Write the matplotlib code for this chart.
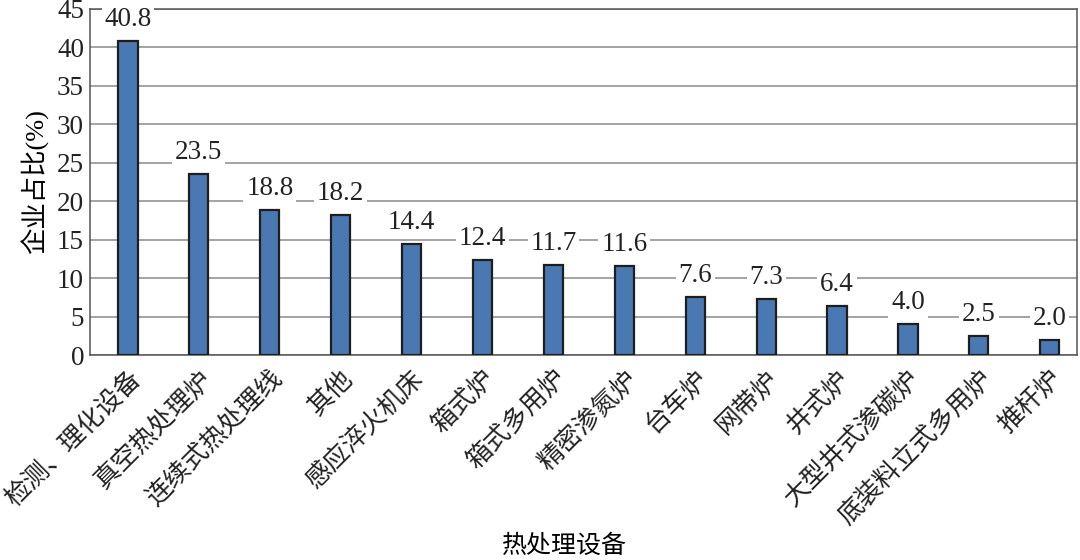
import matplotlib
matplotlib.use("Agg")
import matplotlib.pyplot as plt
import numpy as np

# data
categories = ["检测、理化设备", "真空热处理炉", "连续式热处理线", "其他", "感应淬火机床",
              "箱式炉", "箱式多用炉", "精密渗氮炉", "台车炉", "网带炉", "井式炉",
              "大型井式渗碳炉", "底装料立式多用炉", "推杆炉"]
shares = [40.8, 23.5, 18.8, 18.2, 14.4, 12.4, 11.7, 11.6, 7.6, 7.3, 6.4, 4.0, 2.5, 2.0]
y_ticks = [0, 5, 10, 15, 20, 25, 30, 35, 40, 45]

FONTS = ["Liberation Serif", "Noto Sans CJK SC", "DejaVu Sans"]
plt.rcParams["font.family"] = FONTS

BAR_COLOR = "#4a78b2"
EDGE_COLOR = "#1e1e1e"
GRID_COLOR = "#8a8a8a"

fig = plt.figure(figsize=(10.8, 5.6), dpi=100)
ax = fig.add_axes([0.083, 0.366, 0.914, 0.618])

x = np.arange(len(categories))
ax.bar(x, shares, width=0.27, color=BAR_COLOR, edgecolor=EDGE_COLOR,
       linewidth=1.6, zorder=3)

for xi, v in zip(x, shares):
    ax.annotate(f"{v:.1f}", (xi, v), xytext=(0, 6.5), textcoords="offset points",
                ha="center", va="bottom", fontsize=19.5, color="#222222", zorder=4,
                bbox=dict(boxstyle="square,pad=0.1", fc="white", ec="none"))

ax.set_ylim(0, 45)
ax.set_xlim(-0.54, 13.38)
ax.set_yticks(y_ticks)
ax.yaxis.grid(True, color=GRID_COLOR, linewidth=1.1, zorder=0)
ax.set_axisbelow(True)
ax.tick_params(axis="both", length=0, labelsize=19.5, colors="#222222")
ax.tick_params(axis="y", pad=4)

ax.set_xticks(x)
ax.set_xticklabels(categories, rotation=45, ha="right", rotation_mode="anchor",
                   fontsize=18.5)
ax.tick_params(axis="x", pad=8)

for s in ax.spines.values():
    s.set_color("#555555")
    s.set_linewidth(1.1)

ax.set_ylabel("企业占比(%)", fontsize=19, labelpad=6)
fig.text(0.523, 0.025, "热处理设备", ha="center", va="center", fontsize=18)

fig.savefig("out.png", dpi=100, facecolor="white")
